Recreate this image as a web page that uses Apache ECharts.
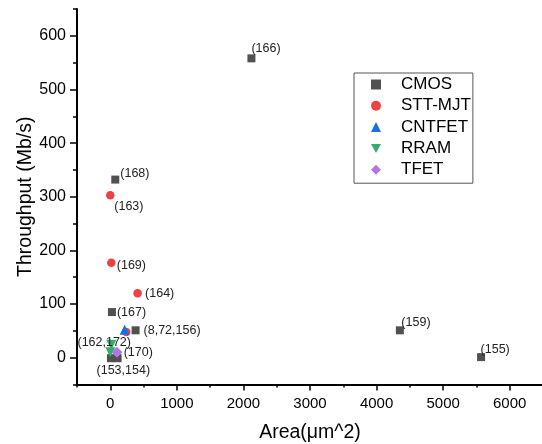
<!DOCTYPE html>
<html>
<head>
<meta charset="utf-8">
<script src="https://cdn.jsdelivr.net/npm/echarts@6/dist/echarts.min.js"></script>
<style>
  html, body { margin: 0; padding: 0; background: #fff; }
  #chart { width: 542px; height: 444px; }
</style>
</head>
<body>
<div id="chart"></div>
<script>
// data: [area um^2, throughput Mb/s], plus ref labels
let cmosPoints = [[2120, 558], [75, 332], [25, 85], [380, 51], [4350, 51], [5570, 1], [10, -1], [110, -1]];
let cmosRefs = ['(166)', '(168)', '(167)', '(8,72,156)', '(159)', '(155)', '', '(153,154)'];
let sttPoints = [[0, 303], [15, 177], [410, 120], [240, 48]];
let sttRefs = ['(163)', '(169)', '(164)', ''];
let cntfetPoints = [[215, 52]];
let cntfetRefs = [''];
let rramPoints = [[15, 24], [0, 10]];
let rramRefs = ['(162,172)', ''];
let tfetPoints = [[100, 10]];
let tfetRefs = ['(170)'];

let seriesNames = ['CMOS', 'STT-MJT', 'CNTFET', 'RRAM', 'TFET'];
let xTicks = [0, 1000, 2000, 3000, 4000, 5000, 6000];
let yTicks = [0, 100, 200, 300, 400, 500, 600];

// where each ref label sits next to its marker: [dx, dy, align]
let labelPlace = {
    '(166)': [0, -10, 'left'],
    '(168)': [5, -6, 'left'],
    '(167)': [5, 0, 'left'],
    '(8,72,156)': [8, 0, 'left'],
    '(159)': [1.5, -7.5, 'left'],
    '(155)': [-0.5, -7.5, 'left'],
    '(153,154)': [5.7, 12, 'center'],
    '(163)': [4, 11, 'left'],
    '(169)': [5.5, 3, 'left'],
    '(164)': [7.5, 0, 'left'],
    '(162,172)': [19.7, -2, 'right'],
    '(170)': [6.7, 0, 'left']
};

let font = 'Arial, "Liberation Sans", sans-serif';
let downTriangle = 'path://M0,0 L10,0 L5,9 Z';
let symbols = ['rect', 'circle', 'triangle', downTriangle, 'diamond'];

function build_data(points, refs)
{
    let out = [];
    for (let [i, p] of points.entries())
    {
        let item = { value: p };
        let ref = refs[i];
        if (ref && labelPlace[ref])
        {
            let pl = labelPlace[ref];
            item.label = {
                show: true,
                formatter: ref,
                position: 'inside',
                align: pl[2],
                verticalAlign: 'middle',
                offset: [pl[0], pl[1]]
            };
        }
        out.push(item);
    }
    return out;
}

function make_series(name, points, refs, symbol, size, colour)
{
    return {
        name: name,
        type: 'scatter',
        symbol: symbol,
        symbolSize: size,
        itemStyle: { color: colour, opacity: 1 },
        label: {
            show: false,
            fontFamily: font,
            fontSize: 12.5,
            color: '#222'
        },
        emphasis: { disabled: true },
        data: build_data(points, refs)
    };
}

var myChart = echarts.init(document.getElementById('chart'));

let axisLine = { show: true, onZero: false, lineStyle: { color: '#000', width: 2 } };
let hiddenLine = { show: false, onZero: false };

let legendData = seriesNames.map((n, i) => ({ name: n, icon: symbols[i] }));

let option = {
    animation: false,
    backgroundColor: '#fff',
    grid: { left: 77, top: 9, width: 466, height: 375.5, containLabel: false, outerBoundsMode: 'none' },
    legend: {
        orient: 'vertical',
        left: 354,
        top: 73,
        padding: [3, 2, 5, 17],
        itemWidth: 10,
        itemHeight: 10,
        itemGap: 4.3,
        symbolKeepAspect: true,
        borderColor: '#555',
        borderWidth: 1,
        backgroundColor: '#fff',
        textStyle: { fontFamily: font, fontSize: 17, color: '#000', padding: [0, 0, 0, 15] },
        data: legendData
    },
    xAxis: [
        {
            type: 'value',
            position: 'bottom',
            min: -500,
            max: 6500,
            interval: 500,
            name: 'Area(μm^2)',
            nameLocation: 'middle',
            nameGap: 38,
            nameMoveOverlap: false,
            nameTextStyle: { fontFamily: font, fontSize: 19.5, color: '#000' },
            axisLine: axisLine,
            axisTick: { show: true, inside: false, length: 3, lineStyle: { color: '#000', width: 1.5 } },
            axisLabel: {
                fontFamily: font, fontSize: 15, color: '#000', margin: 12,
                formatter: function (v) { return v % 1000 === 0 ? String(v) : ''; }
            },
            splitLine: { show: false }
        },
        {
            type: 'value',
            position: 'bottom',
            offset: 0,
            min: -500,
            max: 6500,
            interval: 500,
            axisLine: hiddenLine,
            axisTick: { show: true, length: 6, customValues: xTicks, lineStyle: { color: '#000', width: 1.5 } },
            axisLabel: { show: false },
            splitLine: { show: false }
        }
    ],
    yAxis: [
        {
            type: 'value',
            position: 'left',
            min: -50,
            max: 650,
            interval: 50,
            name: 'Throughput (Mb/s)',
            nameLocation: 'middle',
            nameGap: 41,
            nameMoveOverlap: false,
            nameTextStyle: { fontFamily: font, fontSize: 19.5, color: '#000' },
            axisLine: axisLine,
            axisTick: { show: true, inside: false, length: 4, lineStyle: { color: '#000', width: 1.5 } },
            axisLabel: {
                fontFamily: font, fontSize: 16, color: '#000', margin: 11,
                formatter: function (v) { return v % 100 === 0 ? String(v) : ''; }
            },
            splitLine: { show: false }
        },
        {
            type: 'value',
            position: 'left',
            offset: 0,
            min: -50,
            max: 650,
            interval: 50,
            axisLine: hiddenLine,
            axisTick: { show: true, length: 7, customValues: yTicks, lineStyle: { color: '#000', width: 1.5 } },
            axisLabel: { show: false },
            splitLine: { show: false }
        }
    ],
    series: [
        make_series('CMOS', cmosPoints, cmosRefs, symbols[0], 8, '#515151'),
        make_series('STT-MJT', sttPoints, sttRefs, symbols[1], 8.5, '#F14040'),
        make_series('CNTFET', cntfetPoints, cntfetRefs, symbols[2], 10, '#1A6FDF'),
        make_series('RRAM', rramPoints, rramRefs, symbols[3], 10, '#37AD6B'),
        make_series('TFET', tfetPoints, tfetRefs, symbols[4], 11, '#B177DE')
    ]
};

myChart.setOption(option);
</script>
</body>
</html>
